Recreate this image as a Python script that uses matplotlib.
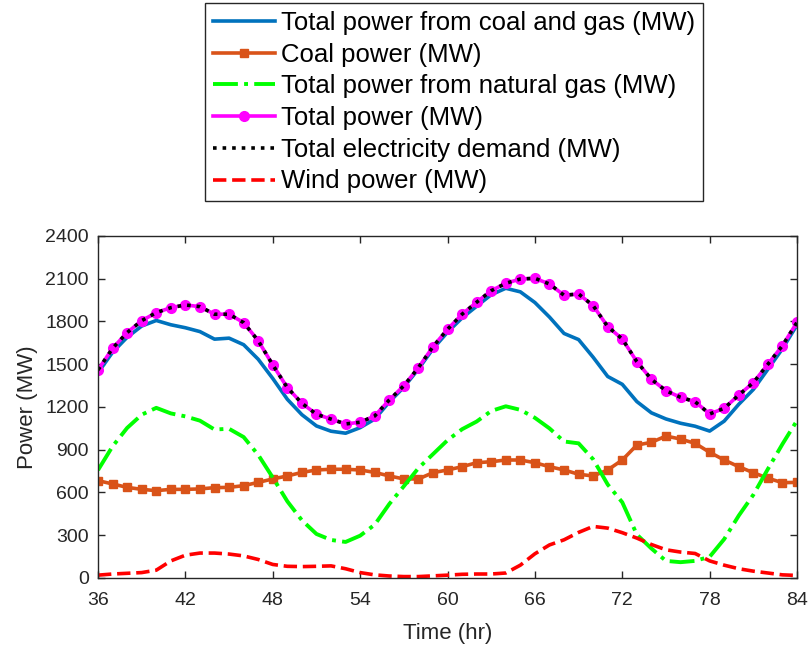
import matplotlib
matplotlib.use('Agg')
import matplotlib.pyplot as plt
import numpy as np

plt.rcParams['font.family'] = ['Liberation Sans', 'DejaVu Sans']

hours = np.arange(36, 85)

total_power = [1460, 1612, 1722, 1806, 1862, 1897, 1916, 1904, 1851, 1851,
               1792, 1665, 1495, 1336, 1226, 1149, 1115, 1081, 1093, 1137,
               1249, 1349, 1476, 1623, 1745, 1851, 1935, 2016, 2068, 2098,
               2103, 2063, 1984, 1993, 1911, 1764, 1677, 1518, 1394, 1314,
               1268, 1237, 1151, 1191, 1284, 1371, 1500, 1631, 1794]

wind_power = [20, 28, 33, 38, 55, 120, 160, 175, 175, 168,
              155, 130, 95, 82, 80, 82, 85, 65, 38, 22,
              14, 10, 10, 15, 20, 26, 28, 28, 35, 90,
              170, 232, 268, 320, 362, 350, 318, 280, 235, 198,
              182, 172, 120, 90, 65, 48, 35, 22, 18]

coal_power = [683, 660, 636, 622, 613, 622, 622, 625, 634, 636,
              648, 671, 695, 716, 741, 758, 763, 763, 758, 741,
              716, 695, 695, 739, 758, 781, 809, 816, 828, 828,
              809, 781, 758, 728, 716, 758, 828, 933, 952, 996,
              975, 945, 882, 828, 781, 739, 700, 669, 671]

coal_gas_power = [1440, 1584, 1689, 1768, 1807, 1777, 1756, 1729, 1676, 1683,
                  1637, 1535, 1400, 1254, 1146, 1067, 1030, 1016, 1055, 1115,
                  1235, 1339, 1466, 1608, 1725, 1825, 1907, 1988, 2033, 2008,
                  1933, 1831, 1716, 1673, 1549, 1414, 1359, 1238, 1159, 1116,
                  1086, 1065, 1031, 1101, 1219, 1323, 1465, 1609, 1776]

gas_power = [757, 924, 1053, 1146, 1194, 1155, 1134, 1104, 1042, 1047,
             989, 864, 705, 538, 405, 309, 267, 253, 297, 374,
             519, 644, 771, 869, 967, 1044, 1098, 1172, 1205, 1180,
             1124, 1050, 958, 945, 833, 656, 531, 305, 207, 120,
             111, 120, 149, 273, 438, 584, 765, 940, 1105]

demand = total_power

fig = plt.figure(figsize=(8.1, 6.49), dpi=100)
ax = fig.add_axes([0.121, 0.1094, 0.863, 0.527])

ax.plot(hours, coal_gas_power, '-', color='#0072BD', lw=2.6,
        label='Total power from coal and gas (MW)')
ax.plot(hours, coal_power, '-s', color='#D95319', lw=2.6, ms=5.5,
        label='Coal power (MW)')
ax.plot(hours, gas_power, '-.', color='#00FF00', lw=2.8,
        label='Total power from natural gas (MW)')
ax.plot(hours, total_power, '-o', color='#FF00FF', lw=2.6, ms=7,
        label='Total power (MW)')
ax.plot(hours, demand, ':', color='black', lw=2.6,
        label='Total electricity demand (MW)')
ax.plot(hours, wind_power, '--', color='#FF0000', lw=2.6,
        label='Wind power (MW)')

ax.set_xlim(36, 84)
ax.set_ylim(0, 2400)
ax.set_xticks(np.arange(36, 85, 6))
ax.set_yticks(np.arange(0, 2401, 300))
ax.tick_params(direction='in', top=True, right=True, labelsize=14,
               colors='#262626', length=5, width=1)
ax.tick_params(axis='x', pad=10)
ax.tick_params(axis='y', pad=6.5)
for s in ax.spines.values():
    s.set_color('#262626')
    s.set_linewidth(1)
ax.set_xlabel('Time (hr)', fontsize=16, color='#262626', labelpad=10)
ax.set_ylabel('Power (MW)', fontsize=16, color='#262626', labelpad=5)

leg = fig.legend(loc='upper center', bbox_to_anchor=(0.5605, 0.995),
                 fontsize=18.5, handlelength=2.4, handletextpad=0.23,
                 labelspacing=0.3, borderpad=0.3, borderaxespad=0,
                 fancybox=False, edgecolor='#262626', framealpha=1)
leg.get_frame().set_linewidth(1)

fig.savefig('out.png', dpi=100)
